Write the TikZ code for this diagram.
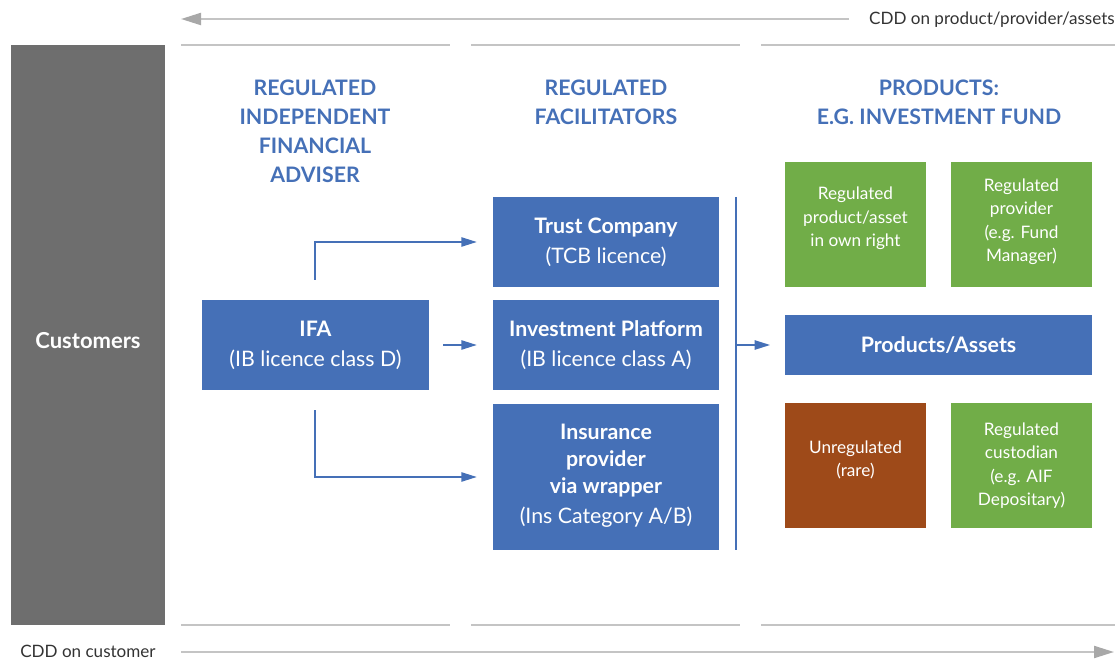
\documentclass[tikz,border=0pt]{standalone}
\usepackage{fontspec}
\setmainfont{Lato}
\usetikzlibrary{arrows.meta,fit,positioning}
\definecolor{cblue}{HTML}{4570B7}
\definecolor{cgreen}{HTML}{71AD48}
\definecolor{cbrown}{HTML}{9E4A19}
\definecolor{cbar}{HTML}{6E6E6E}
\definecolor{cline}{HTML}{C4C4C4}
\definecolor{chead}{HTML}{A8A8A8}
\definecolor{ctext}{HTML}{333333}
\begin{document}
\begin{tikzpicture}[x=0.75pt,y=-0.75pt,
  box/.style={fill=#1,draw=none,inner sep=0pt,text=white,align=center,font=\fontsize{16}{22.5}\selectfont},
  small/.style={font=\fontsize{12.9}{17.6}\selectfont},
  hdr/.style={text=cblue,align=center,font=\bfseries\fontsize{16}{21.75}\selectfont},
  sep/.style={draw=cline,line width=1.2pt},
  conn/.style={draw=cblue,line width=1pt,-{Triangle[length=11.5pt,width=7pt]}},
  cdd/.style={draw=cline,line width=1.6pt},
  lbl/.style={text=ctext,font=\fontsize{12.8}{14}\selectfont,inner sep=0pt}]
\useasboundingbox (0,0) rectangle (1117,659);
% top and bottom CDD arrows
\node[lbl,anchor=east] (ltop) at (1115,20) {CDD on product/provider/assets};
\coordinate (ttip) at (181,19);
\draw[cdd,-{Triangle[length=15pt,width=9pt,fill=chead,color=chead]}] (ltop.west) ++(-20,-1) coordinate (tstart) -- (ttip);
\node[lbl,anchor=west] (lbot) at (20,651) {CDD on customer};
\coordinate (btip) at (1114,652);
\draw[cdd,-{Triangle[length=15pt,width=9pt,fill=chead,color=chead]}] (181,652) coordinate (bstart) -- (btip);
% separator lines
\foreach \a/\b in {181/450,471/740,761/1115}{
  \draw[sep] (\a,45) -- (\b,45);
  \draw[sep] (\a,625) -- (\b,625);
}
% customers bar
\node[box=cbar,fit={(11,45) (165,625)}] (cust) {};
\node[text=white,font=\bfseries\fontsize{16.5}{18}\selectfont] (custl) at ([yshift=-4pt]cust.center) {Customers};
% headers
\node[hdr,anchor=north] (h1) at (315,75) {REGULATED\\INDEPENDENT\\FINANCIAL\\ADVISER};
\node[hdr,anchor=north] (h2) at (606,75) {REGULATED\\FACILITATORS};
\node[hdr,anchor=north] (h3) at (939,75) {PRODUCTS:\\E.G. INVESTMENT FUND};
% boxes
\node[box=cblue,fit={(202,300) (429,390)}] (ifa) {};
\node[box=cblue] at (ifa.center) {\textbf{IFA}\\(IB licence class D)};
\node[box=cblue,fit={(493,197) (719,287)}] (trust) {};
\node[box=cblue] at (trust.center) {\textbf{Trust Company}\\(TCB licence)};
\node[box=cblue,fit={(493,300) (719,390)}] (inv) {};
\node[box=cblue] at (inv.center) {\textbf{Investment Platform}\\(IB licence class A)};
\node[box=cblue,fit={(493,404) (719,550)}] (ins) {};
\node[box=cblue,font=\fontsize{16}{20.5}\selectfont] at ([yshift=1pt]ins.center) {\textbf{Insurance}\\\textbf{provider}\\\textbf{via wrapper}\\[2pt](Ins Category A/B)};
\node[box=cgreen,fit={(785,162) (926,287)}] (g1) {};
\node[box=cgreen,small] at ([yshift=4.5pt]g1.center) {Regulated\\product/asset\\in own right};
\node[box=cgreen,fit={(951,162) (1092,287)}] (g2) {};
\node[box=cgreen,small] at ([yshift=2pt]g2.center) {Regulated\\provider\\(e.g. Fund\\Manager)};
\node[box=cblue,fit={(785,315) (1092,375)}] (prod) {};
\node[box=cblue,font=\bfseries\fontsize{16}{18}\selectfont] at (prod.center) {Products/Assets};
\node[box=cbrown,fit={(785,403) (926,528)}] (unreg) {};
\node[box=cbrown,small] at ([yshift=4pt]unreg.center) {Unregulated\\(rare)};
\node[box=cgreen,fit={(951,403) (1092,528)}] (g3) {};
\node[box=cgreen,small] at (g3.center) {Regulated\\custodian\\(e.g. AIF\\Depositary)};
% connectors
\coordinate (vtop) at (736,197);
\coordinate (vbot) at (736,550);
\draw[draw=cblue,line width=1pt] (vtop) -- (vbot);
\coordinate (c1) at (315,280);
\draw[conn,shorten >=12pt] (c1) |- (trust.west);
\coordinate (c2) at (443,345);
\draw[conn,shorten >=12pt] (c2) -- (inv.west);
\coordinate (c3) at (315,410);
\draw[conn,shorten >=12pt] (c3) |- (ins.west |- 0,477);
\coordinate (c4) at (736,345);
\draw[conn,shorten >=11pt] (c4) -- (prod.west);
\end{tikzpicture}
\end{document}
